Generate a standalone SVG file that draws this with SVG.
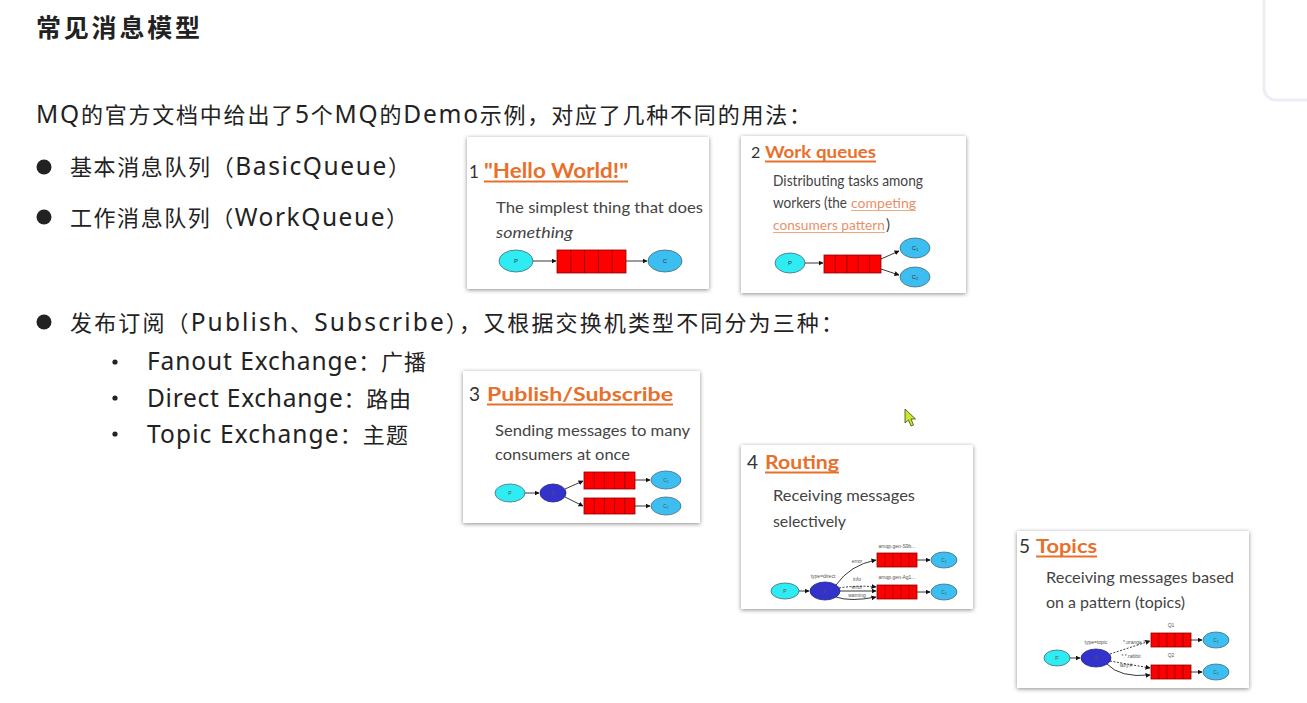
<svg xmlns="http://www.w3.org/2000/svg" width="1307" height="703" viewBox="0 0 1307 703">
<style>
.main{font-family:"Noto Sans","Noto Sans CJK SC",sans-serif;font-size:22px;fill:#222}
.l{font-size:24.5px}
.title{font-family:"Noto Sans CJK SC","Noto Sans",sans-serif;font-size:25px;font-weight:bold;fill:#222}
.card{fill:#fff;filter:url(#sh)}
.num{font-family:Lato,"Open Sans",sans-serif;fill:#333}
.ttl{font-family:Lato,"Open Sans",sans-serif;font-weight:bold;fill:#e8702a}
.ul{stroke:#e8702a;stroke-width:1.8}
.ul2{stroke:#eeaa80;stroke-width:1}
.body{font-family:Lato,"Open Sans",sans-serif;font-size:15px;fill:#444}
.lnk{font-family:Lato,"Open Sans",sans-serif;font-size:13.5px;fill:#e8906a}
.p{fill:#2fecf2;stroke:#4a6a78;stroke-width:0.8}
.c{fill:#3cbff0;stroke:#4a6a78;stroke-width:0.8}
.x{fill:#3333cc;stroke:#22227a;stroke-width:0.8}
.q{fill:#ff0000;stroke:#8a0000;stroke-width:0.8}
.qd{stroke:#8a0000;stroke-width:0.8}
.lbl{font-family:"Liberation Sans",sans-serif;font-size:6px;fill:#333;text-anchor:middle}
.tiny{font-family:"Liberation Sans",sans-serif;font-size:5px;fill:#555;text-anchor:middle}
.e{fill:none;stroke:#222;stroke-width:0.9;marker-end:url(#ah)}
.ed{fill:none;stroke:#222;stroke-width:0.9;stroke-dasharray:2 1.5;marker-end:url(#ah)}
</style>
<defs>
<filter id="sh" x="-5%" y="-5%" width="110%" height="115%">
<feDropShadow dx="0" dy="1" stdDeviation="2" flood-color="#000" flood-opacity="0.45"/>
</filter>
<marker id="ah" viewBox="0 0 10 10" refX="9" refY="5" markerWidth="5" markerHeight="5" orient="auto" markerUnits="userSpaceOnUse">
<path d="M0,0 L10,5 L0,10 z" fill="#111"/>
</marker>
</defs>
<rect x="0" y="0" width="1307" height="703" fill="#fff"/>
<rect x="1264" y="-20" width="60" height="120" rx="12" fill="none" stroke="#eceef5" stroke-width="3"/>

<g id="text-block">
<text class="title" x="36" y="37" textLength="164" lengthAdjust="spacing">常见消息模型</text>
<text class="main" x="36" y="123" textLength="775" lengthAdjust="spacing"><tspan class="l">MQ</tspan>的官方文档中给出了<tspan class="l">5</tspan>个<tspan class="l">MQ</tspan>的<tspan class="l">Demo</tspan>示例，对应了几种不同的用法：</text>
<circle cx="44" cy="167" r="7.5" fill="#222"/>
<text class="main" x="70" y="175" textLength="340" lengthAdjust="spacing">基本消息队列（<tspan class="l">BasicQueue</tspan>）</text>
<circle cx="44" cy="217" r="7.5" fill="#222"/>
<text class="main" x="70" y="226" textLength="338" lengthAdjust="spacing">工作消息队列（<tspan class="l">WorkQueue</tspan>）</text>
<circle cx="44" cy="322" r="7.5" fill="#222"/>
<text class="main" x="70" y="331" textLength="773" lengthAdjust="spacing">发布订阅（<tspan class="l">Publish</tspan>、<tspan class="l">Subscribe</tspan>），又根据交换机类型不同分为三种：</text>
<circle cx="115" cy="362" r="2.6" fill="#222"/>
<text class="main" x="147" y="370" textLength="279" lengthAdjust="spacing"><tspan class="l">Fanout Exchange</tspan>：广播</text>
<circle cx="115" cy="398" r="2.6" fill="#222"/>
<text class="main" x="147" y="407" textLength="264" lengthAdjust="spacing"><tspan class="l">Direct Exchange</tspan>：路由</text>
<circle cx="115" cy="434" r="2.6" fill="#222"/>
<text class="main" x="147" y="443" textLength="261" lengthAdjust="spacing"><tspan class="l">Topic Exchange</tspan>：主题</text>
</g>

<g id="card1">
<rect class="card" x="467" y="137" width="242" height="152"/>
<text class="num" x="469" y="178" font-size="17">1</text>
<text class="ttl" x="484" y="178" font-size="20" textLength="144" lengthAdjust="spacingAndGlyphs">"Hello World!"</text>
<line class="ul" x1="484" y1="181.5" x2="628" y2="181.5"/>
<text class="body" x="496" y="213" textLength="207" lengthAdjust="spacingAndGlyphs">The simplest thing that does</text>
<text class="body" x="496" y="238" font-style="italic" textLength="77" lengthAdjust="spacingAndGlyphs">something</text>
<ellipse class="p" cx="516" cy="261" rx="17" ry="11"/>
<text class="lbl" x="516" y="263">P</text>
<rect class="q" x="557" y="250" width="69" height="23"/>
<path class="qd" d="M570.8,250V273M584.6,250V273M598.4,250V273M612.2,250V273"/>
<ellipse class="c" cx="665" cy="261" rx="17" ry="11"/>
<text class="lbl" x="665" y="263">C</text>
</g>

<g id="card2">
<rect class="card" x="741" y="136" width="225" height="157"/>
<text class="num" x="751" y="158" font-size="16">2</text>
<text class="ttl" x="765" y="158" font-size="17" textLength="111" lengthAdjust="spacingAndGlyphs">Work queues</text>
<line class="ul" x1="765" y1="161.5" x2="876" y2="161.5"/>
<text class="body" x="773" y="186" font-size="13.5" textLength="150" lengthAdjust="spacingAndGlyphs">Distributing tasks among</text>
<text class="body" x="773" y="208" font-size="13.5" textLength="74" lengthAdjust="spacingAndGlyphs">workers (the</text>
<text class="lnk" x="851" y="208" textLength="65" lengthAdjust="spacingAndGlyphs">competing</text>
<line class="ul2" x1="851" y1="210.5" x2="916" y2="210.5"/>
<text class="lnk" x="773" y="230" textLength="112" lengthAdjust="spacingAndGlyphs">consumers pattern</text>
<line class="ul2" x1="773" y1="232.5" x2="885" y2="232.5"/>
<text class="body" x="886" y="230" font-size="13.5">)</text>
<ellipse class="p" cx="790" cy="263" rx="15" ry="10"/>
<text class="lbl" x="790" y="265">P</text>
<rect class="q" x="824" y="255" width="57" height="18"/>
<path class="qd" d="M835.4,255V273M846.8,255V273M858.2,255V273M869.6,255V273"/>
<ellipse class="c" cx="915" cy="248" rx="15" ry="10"/>
<text class="lbl" x="915" y="250">C₁</text>
<ellipse class="c" cx="915" cy="277" rx="15" ry="10"/>
<text class="lbl" x="915" y="279">C₂</text>
</g>

<g id="card3">
<rect class="card" x="463" y="371" width="237" height="152"/>
<text class="num" x="469" y="401" font-size="19">3</text>
<text class="ttl" x="487" y="401" font-size="19" textLength="186" lengthAdjust="spacingAndGlyphs">Publish/Subscribe</text>
<line class="ul" x1="487" y1="404.5" x2="673" y2="404.5"/>
<text class="body" x="495" y="436" textLength="195" lengthAdjust="spacingAndGlyphs">Sending messages to many</text>
<text class="body" x="495" y="460" textLength="135" lengthAdjust="spacingAndGlyphs">consumers at once</text>
<ellipse class="p" cx="510" cy="493" rx="15" ry="9"/>
<text class="tiny" x="510" y="495">P</text>
<ellipse class="x" cx="553" cy="493" rx="13" ry="9"/>
<text class="tiny" x="553" y="495" fill="#99a">X</text>
<rect class="q" x="584" y="472" width="51" height="17"/>
<path class="qd" d="M594.2,472V489M604.4,472V489M614.6,472V489M624.8,472V489"/>
<rect class="q" x="584" y="498" width="51" height="16"/>
<path class="qd" d="M594.2,498V514M604.4,498V514M614.6,498V514M624.8,498V514"/>
<ellipse class="c" cx="666" cy="480" rx="15" ry="9"/>
<text class="tiny" x="666" y="482">C₁</text>
<ellipse class="c" cx="666" cy="506" rx="15" ry="9"/>
<text class="tiny" x="666" y="508">C₂</text>
</g>

<g id="card4">
<rect class="card" x="741" y="445" width="232" height="164"/>
<text class="num" x="747" y="469" font-size="19">4</text>
<text class="ttl" x="765" y="469" font-size="19" textLength="74" lengthAdjust="spacingAndGlyphs">Routing</text>
<line class="ul" x1="765" y1="472.5" x2="839" y2="472.5"/>
<text class="body" x="773" y="501" textLength="142" lengthAdjust="spacingAndGlyphs">Receiving messages</text>
<text class="body" x="773" y="527" textLength="73" lengthAdjust="spacingAndGlyphs">selectively</text>
<ellipse class="p" cx="785" cy="591" rx="14" ry="8"/>
<text class="tiny" x="785" y="593">P</text>
<ellipse class="x" cx="825" cy="591" rx="15" ry="9"/>
<text class="tiny" x="825" y="593" fill="#99a">X</text>
<text class="tiny" x="823" y="578">type=direct</text>
<text class="tiny" x="897" y="548">amqp.gen-S9b...</text>
<rect class="q" x="877" y="553" width="40" height="14"/>
<path class="qd" d="M885,553V567M893,553V567M901,553V567M909,553V567"/>
<text class="tiny" x="897" y="579">amqp.gen-Ag1...</text>
<rect class="q" x="877" y="585" width="40" height="14"/>
<path class="qd" d="M885,585V599M893,585V599M901,585V599M909,585V599"/>
<text class="tiny" x="857" y="563">error</text>
<text class="tiny" x="857" y="581">info</text>
<text class="tiny" x="857" y="589">error</text>
<text class="tiny" x="857" y="597">warning</text>
<ellipse class="c" cx="944" cy="560" rx="13" ry="8"/>
<text class="tiny" x="944" y="562">C₁</text>
<ellipse class="c" cx="944" cy="592" rx="13" ry="8"/>
<text class="tiny" x="944" y="594">C₂</text>
</g>

<g id="card5">
<rect class="card" x="1017" y="531" width="232" height="157"/>
<text class="num" x="1019" y="553" font-size="19">5</text>
<text class="ttl" x="1036" y="553" font-size="19" textLength="61" lengthAdjust="spacingAndGlyphs">Topics</text>
<line class="ul" x1="1036" y1="556.5" x2="1097" y2="556.5"/>
<text class="body" x="1046" y="583" textLength="188" lengthAdjust="spacingAndGlyphs">Receiving messages based</text>
<text class="body" x="1046" y="608" textLength="139" lengthAdjust="spacingAndGlyphs">on a pattern (topics)</text>
<ellipse class="p" cx="1057" cy="658" rx="13" ry="8"/>
<text class="tiny" x="1057" y="660">P</text>
<ellipse class="x" cx="1096" cy="658" rx="15" ry="9"/>
<text class="tiny" x="1096" y="660" fill="#99a">X</text>
<text class="tiny" x="1096" y="644">type=topic</text>
<text class="tiny" x="1171" y="627">Q1</text>
<rect class="q" x="1151" y="633" width="40" height="14"/>
<path class="qd" d="M1159,633V647M1167,633V647M1175,633V647M1183,633V647"/>
<text class="tiny" x="1171" y="657">Q2</text>
<rect class="q" x="1151" y="665" width="40" height="14"/>
<path class="qd" d="M1159,665V679M1167,665V679M1175,665V679M1183,665V679"/>
<text class="tiny" x="1134" y="644">*.orange.*</text>
<text class="tiny" x="1131" y="658">*.*.rabbit</text>
<text class="tiny" x="1126" y="667">lazy.#</text>
<ellipse class="c" cx="1216" cy="640" rx="13" ry="8"/>
<text class="tiny" x="1216" y="642">C₁</text>
<ellipse class="c" cx="1216" cy="672" rx="13" ry="8"/>
<text class="tiny" x="1216" y="674">C₂</text>
</g>

<g id="connectors">
<path class="e" d="M533,261H556"/>
<path class="e" d="M626,261H647"/>
<path class="e" d="M805,263H823"/>
<path class="e" d="M881,259L899,251"/>
<path class="e" d="M881,269L899,275"/>
<path class="e" d="M525,493H539"/>
<path class="e" d="M565,489L583,481"/>
<path class="e" d="M565,497L583,506"/>
<path class="e" d="M635,480H650"/>
<path class="e" d="M635,506H650"/>
<path class="e" d="M799,591H809"/>
<path class="e" d="M836,585Q850,565 876,560"/>
<path class="ed" d="M839,588Q858,585 876,587"/>
<path class="e" d="M840,591H876"/>
<path class="e" d="M836,597Q850,602 876,597"/>
<path class="e" d="M917,560H930"/>
<path class="e" d="M917,592H930"/>
<path class="e" d="M1070,658H1080"/>
<path class="ed" d="M1110,654L1150,641"/>
<path class="ed" d="M1110,661L1150,668"/>
<path class="e" d="M1107,664Q1120,678 1150,675"/>
<path class="e" d="M1191,640H1202"/>
<path class="e" d="M1191,672H1202"/>
</g>

<polygon points="905,409 905,423 908.5,420 911,426 913.5,425 911,419 915.5,419" fill="#c8e830" stroke="#3a4a10" stroke-width="0.8"/>
</svg>
